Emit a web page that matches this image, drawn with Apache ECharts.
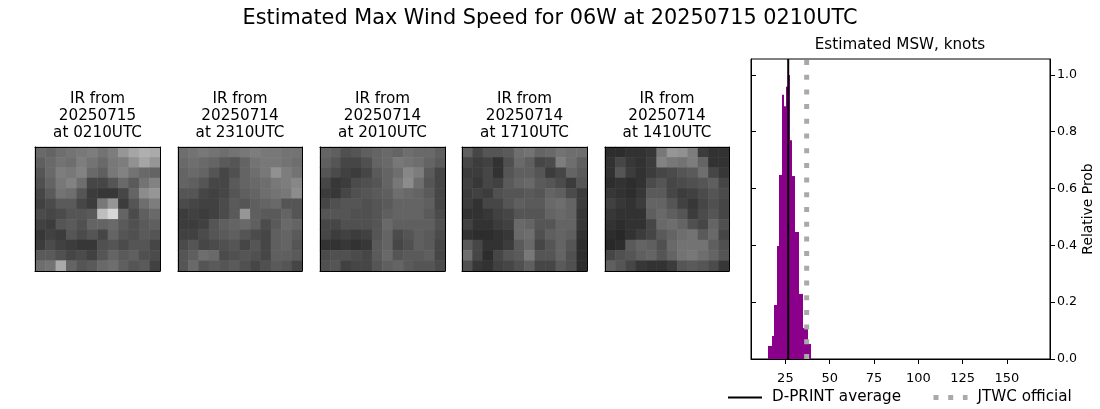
<!DOCTYPE html>
<html>
<head>
<meta charset="utf-8">
<style>
  html, body { margin: 0; padding: 0; background: #fff; }
  #main { width: 1100px; height: 409px; }
</style>
<script src="https://cdn.jsdelivr.net/npm/echarts@6/dist/echarts.min.js"></script>
</head>
<body>
<div id="main"></div>
<script>
var panelTitles = [
  'IR from\n20250715\nat 0210UTC',
  'IR from\n20250714\nat 2310UTC',
  'IR from\n20250714\nat 2010UTC',
  'IR from\n20250714\nat 1710UTC',
  'IR from\n20250714\nat 1410UTC'
]

// grey levels (0-255), top row first
var ir_0210 = [
  [105, 100, 110, 115, 120, 125, 115, 125, 150, 165, 175, 170],
  [95, 105, 115, 110, 125, 115, 105, 120, 125, 145, 165, 150],
  [85, 105, 125, 120, 130, 105, 95, 120, 130, 115, 105, 100],
  [80, 100, 120, 130, 110, 70, 70, 85, 105, 90, 115, 130],
  [70, 90, 115, 110, 85, 60, 55, 55, 70, 100, 140, 150],
  [65, 75, 90, 90, 70, 60, 120, 150, 60, 85, 110, 125],
  [75, 70, 75, 85, 85, 90, 190, 215, 100, 75, 95, 105],
  [65, 60, 85, 90, 80, 100, 100, 105, 90, 80, 90, 95],
  [55, 65, 60, 85, 75, 85, 70, 100, 85, 80, 90, 85],
  [60, 75, 65, 60, 55, 55, 80, 85, 75, 85, 85, 70],
  [90, 90, 80, 70, 75, 65, 85, 100, 90, 95, 80, 75],
  [110, 115, 170, 100, 85, 90, 105, 110, 95, 85, 90, 65]
]
var ir_2310 = [
  [110, 115, 120, 115, 110, 115, 120, 125, 120, 120, 115, 115],
  [105, 110, 105, 100, 90, 85, 100, 115, 120, 120, 115, 110],
  [100, 105, 100, 85, 70, 80, 100, 110, 120, 145, 125, 115],
  [100, 95, 85, 70, 70, 90, 100, 105, 110, 120, 125, 135],
  [85, 85, 70, 65, 70, 85, 95, 100, 110, 115, 120, 140],
  [75, 70, 65, 65, 75, 90, 85, 95, 100, 105, 85, 85],
  [60, 65, 60, 65, 75, 90, 150, 95, 90, 90, 100, 85],
  [60, 60, 65, 85, 95, 100, 105, 95, 75, 90, 105, 100],
  [65, 65, 75, 85, 90, 95, 85, 75, 70, 95, 100, 90],
  [75, 85, 70, 75, 80, 85, 70, 85, 70, 95, 100, 85],
  [85, 95, 110, 105, 75, 80, 85, 80, 70, 95, 95, 90],
  [85, 105, 85, 90, 85, 90, 80, 70, 80, 90, 85, 70]
]
var ir_2010 = [
  [100, 95, 80, 85, 95, 100, 105, 100, 110, 105, 105, 95],
  [95, 85, 70, 70, 80, 100, 105, 120, 115, 110, 100, 90],
  [85, 75, 65, 60, 70, 90, 100, 110, 135, 125, 90, 70],
  [70, 55, 60, 75, 80, 85, 100, 120, 140, 110, 85, 70],
  [60, 55, 70, 80, 85, 90, 95, 110, 105, 100, 90, 70],
  [70, 80, 85, 85, 80, 85, 90, 100, 100, 100, 95, 70],
  [85, 85, 85, 80, 80, 85, 95, 100, 100, 100, 90, 75],
  [70, 70, 80, 80, 80, 85, 105, 95, 95, 95, 95, 80],
  [70, 60, 65, 60, 65, 85, 100, 75, 85, 95, 90, 75],
  [50, 50, 55, 50, 55, 90, 100, 70, 80, 95, 90, 70],
  [75, 80, 80, 75, 70, 90, 105, 85, 90, 90, 95, 70],
  [80, 85, 65, 70, 70, 85, 95, 100, 90, 85, 85, 75]
]
var ir_1710 = [
  [95, 70, 85, 85, 90, 110, 115, 100, 105, 115, 110, 110],
  [70, 60, 65, 50, 80, 105, 95, 70, 75, 125, 110, 95],
  [60, 60, 70, 50, 85, 95, 95, 85, 60, 70, 100, 90],
  [65, 55, 70, 65, 90, 100, 105, 90, 85, 75, 60, 85],
  [60, 65, 60, 80, 85, 85, 90, 85, 100, 95, 75, 60],
  [60, 50, 70, 70, 85, 95, 90, 90, 105, 110, 100, 60],
  [50, 50, 55, 65, 70, 85, 85, 85, 100, 105, 100, 55],
  [65, 50, 50, 60, 65, 105, 100, 85, 85, 100, 100, 55],
  [50, 45, 45, 50, 55, 105, 110, 80, 95, 100, 95, 50],
  [90, 70, 50, 50, 60, 90, 105, 70, 85, 100, 85, 45],
  [110, 70, 45, 70, 85, 90, 120, 85, 85, 100, 80, 45],
  [80, 55, 50, 65, 70, 80, 95, 70, 70, 90, 80, 45]
]
var ir_1410 = [
  [45, 45, 50, 50, 55, 120, 150, 145, 125, 60, 50, 50],
  [50, 70, 55, 50, 60, 130, 120, 115, 125, 100, 50, 50],
  [50, 85, 60, 50, 60, 70, 75, 85, 90, 110, 70, 55],
  [45, 50, 45, 50, 75, 85, 70, 75, 80, 85, 95, 70],
  [55, 50, 45, 55, 90, 90, 70, 60, 65, 75, 85, 75],
  [65, 55, 50, 60, 100, 100, 85, 65, 55, 70, 80, 70],
  [55, 50, 50, 50, 95, 105, 95, 85, 60, 75, 85, 70],
  [50, 45, 50, 50, 70, 105, 110, 100, 80, 70, 100, 80],
  [45, 40, 50, 60, 70, 90, 100, 110, 115, 90, 105, 70],
  [40, 45, 90, 100, 95, 80, 105, 115, 115, 115, 95, 80],
  [70, 80, 85, 95, 100, 85, 100, 115, 120, 110, 100, 85],
  [95, 85, 70, 55, 50, 50, 60, 85, 90, 85, 75, 55]
]
var ir_images = [ir_0210, ir_2310, ir_2010, ir_1710, ir_1410]

// histogram of estimated MSW
var bin_edges = [15.2, 17.4, 18.6, 20.3, 21.4, 23.1, 24.2, 25.3, 26.5, 27.6, 28.7, 30.4, 32.7, 34.9, 37.8, 39.5]
var bin_probs = [0.046, 0.081, 0.19, 0.398, 0.648, 0.93, 0.89, 0.958, 1.0, 0.77, 0.644, 0.447, 0.229, 0.109, 0.053]
var dprint_average = 26.6
var jtwc_official = 37
var x_ticks = [25, 50, 75, 100, 125, 150]
var y_ticks = [0, 0.2, 0.4, 0.6, 0.8, 1.0]
var x_min = 5.6
var x_max = 174.3
var y_max = 1.056

var font = 'DejaVu Sans'
var panel_lefts = [35, 178, 320, 462, 605]
var panel_widths = [125, 124, 125, 125, 124]

function make_index_list(n) {
  var list = []
  for (var i = 0; i < n; i++) list.push(i)
  return list
}

function make_option() {
  var titles = [
    { text: 'Estimated Max Wind Speed for 06W at 20250715 0210UTC', left: 550, top: 8, padding: 0, textAlign: 'center',
      textStyle: { fontFamily: font, fontSize: 20.8, fontWeight: 'normal', color: '#000' } },
    { text: 'Estimated MSW, knots', left: 900, top: 38, padding: 0, textAlign: 'center',
      textStyle: { fontFamily: font, fontSize: 15.2, fontWeight: 'normal', color: '#000' } }
  ]
  var grids = []
  var xAxes = []
  var yAxes = []
  var series = []

  ir_images.forEach(function(image, p) {
    titles.push({
      text: panelTitles[p], left: panel_lefts[p] + panel_widths[p] / 2, top: 90, padding: 0, textAlign: 'center',
      textStyle: { fontFamily: font, fontSize: 15.2, lineHeight: 17.2, fontWeight: 'normal', color: '#000' }
    })
    grids.push({ left: panel_lefts[p], top: 147, width: panel_widths[p], height: 124 })
    var cols = make_index_list(image[0].length)
    var rows = make_index_list(image.length)
    ;['bottom', 'top'].forEach(function(pos) {
      xAxes.push({ type: 'category', gridIndex: p, position: pos, data: cols, z: 5,
        axisLine: { onZero: false, lineStyle: { color: '#000', width: 1 } },
        axisTick: { show: false }, axisLabel: { show: false }, splitLine: { show: false } })
    })
    ;['left', 'right'].forEach(function(pos) {
      yAxes.push({ type: 'category', gridIndex: p, position: pos, inverse: true, data: rows, z: 5,
        axisLine: { onZero: false, lineStyle: { color: '#000', width: 1 } },
        axisTick: { show: false }, axisLabel: { show: false }, splitLine: { show: false } })
    })
    var cells = []
    image.forEach(function(row, r) {
      row.forEach(function(v, c) {
        cells.push([c, r, v])
      })
    })
    series.push({
      type: 'heatmap', xAxisIndex: p * 2, yAxisIndex: p * 2, data: cells,
      itemStyle: { borderWidth: 0 }, emphasis: { disabled: true }, progressive: 0
    })
  })

  // histogram panel
  var g = ir_images.length
  var ax = xAxes.length
  var ay = yAxes.length
  grids.push({ left: 751, top: 59, width: 299, height: 300, show: true, borderColor: '#000', borderWidth: 1 })
  xAxes.push({
    type: 'value', gridIndex: g, min: x_min, max: x_max, position: 'bottom',
    axisLine: { show: true, onZero: false, lineStyle: { color: '#000' } },
    axisTick: { show: true, length: 5, customValues: x_ticks, lineStyle: { color: '#000' } },
    axisLabel: { show: true, customValues: x_ticks, color: '#000', fontFamily: font, fontSize: 13, margin: 13 },
    splitLine: { show: false }
  })
  yAxes.push({
    type: 'value', gridIndex: g, min: 0, max: y_max, position: 'right',
    name: 'Relative Prob', nameLocation: 'middle', nameRotate: 90, nameGap: 31,
    nameTextStyle: { color: '#000', fontFamily: font, fontSize: 13.9 },
    axisLine: { show: true, onZero: false, lineStyle: { color: '#000' } },
    axisTick: { show: true, length: 5, customValues: y_ticks, lineStyle: { color: '#000' } },
    axisLabel: { show: true, customValues: y_ticks, color: '#000', fontFamily: font, fontSize: 12.6, margin: 7,
      verticalAlignMinLabel: 'middle', verticalAlignMaxLabel: 'middle',
      formatter: function(v) { return v.toFixed(1) } },
    splitLine: { show: false }
  })
  // the left side only carries inward ticks
  yAxes.push({
    type: 'value', gridIndex: g, min: 0, max: y_max, position: 'left',
    axisLine: { show: true, onZero: false, lineStyle: { color: '#000' } },
    axisTick: { show: true, inside: true, length: 5, customValues: y_ticks, lineStyle: { color: '#000' } },
    axisLabel: { show: false },
    splitLine: { show: false }
  })

  var bars = bin_probs.map(function(v, i) {
    return [bin_edges[i], bin_edges[i + 1], v]
  })
  series.push({
    type: 'custom', xAxisIndex: ax, yAxisIndex: ay, data: bars, silent: true, z: 2,
    encode: { x: [0, 1], y: 2 },
    renderItem: function(params, api) {
      var p0 = api.coord([api.value(0), api.value(2)])
      var p1 = api.coord([api.value(1), 0])
      // snap to whole pixels so neighbouring bins leave no seam
      var x0 = Math.round(p0[0])
      var x1 = Math.round(p1[0])
      return {
        type: 'rect',
        shape: { x: x0, y: p0[1], width: x1 - x0, height: p1[1] - p0[1] },
        style: { fill: '#8b008b' }
      }
    }
  })
  series.push({
    name: 'D-PRINT average', type: 'line', xAxisIndex: ax, yAxisIndex: ay, z: 3,
    data: [[dprint_average, 0], [dprint_average, y_max]], symbol: 'none', silent: true,
    itemStyle: { color: '#000' }, lineStyle: { color: '#000', width: 2 }
  })
  series.push({
    name: 'JTWC official', type: 'line', xAxisIndex: ax, yAxisIndex: ay, z: 4,
    data: [[jtwc_official, 0], [jtwc_official, y_max]], symbol: 'none', silent: true,
    itemStyle: { color: '#a9a9a9' }, lineStyle: { color: '#a9a9a9', width: 5, type: [5, 9.7] }
  })

  return {
    animation: false,
    backgroundColor: '#fff',
    title: titles,
    grid: grids,
    xAxis: xAxes,
    yAxis: yAxes,
    series: series,
    visualMap: {
      show: false, type: 'continuous', min: 0, max: 255,
      seriesIndex: make_index_list(ir_images.length),
      inRange: { color: ['#000000', '#ffffff'] }
    },
    legend: {
      left: 727, top: 390, itemWidth: 34, itemHeight: 14, itemGap: 30, padding: 0,
      data: [
        { name: 'D-PRINT average', lineStyle: { width: 2 } },
        { name: 'JTWC official', lineStyle: { width: 5 } }
      ],
      itemStyle: { opacity: 0 },
      textStyle: { fontFamily: font, fontSize: 15.2, color: '#000', padding: [0, 0, 0, 5] }
    }
  }
}

var myChart = echarts.init(document.getElementById('main'), null, { renderer: 'canvas' })
myChart.setOption(make_option())
</script>
</body>
</html>
